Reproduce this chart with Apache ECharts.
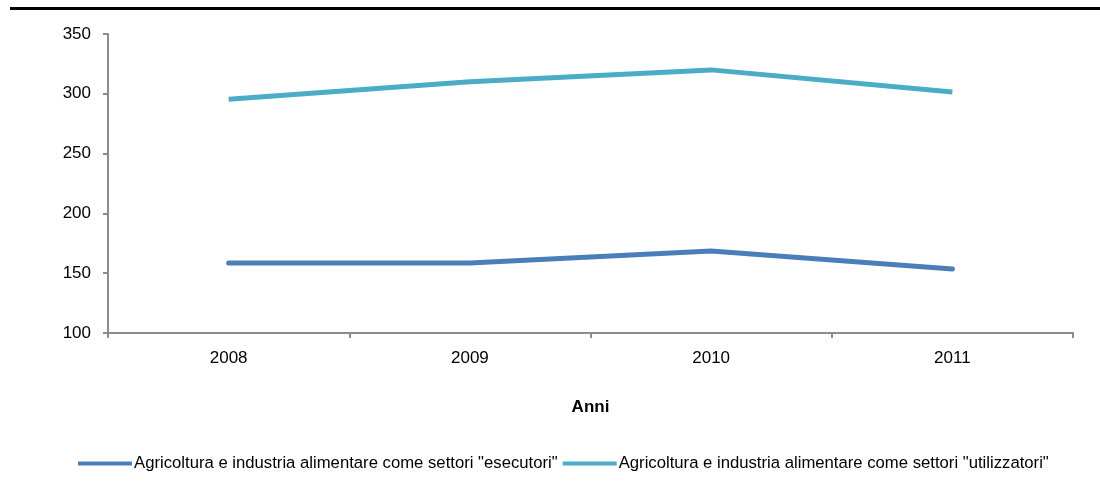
<!DOCTYPE html>
<html>
<head>
<meta charset="utf-8">
<script src="https://cdn.jsdelivr.net/npm/echarts@6/dist/echarts.min.js"></script>
<style>
  html, body { margin: 0; padding: 0; background: #fff; }
  #chart { width: 1100px; height: 488px; }
</style>
</head>
<body>
<div id="chart"></div>
<script>
// Years on the category axis
const anni = ['2008', '2009', '2010', '2011'];
// Agricoltura e industria alimentare come settori "esecutori"
const esecutori = [158.5, 158.5, 168.5, 153.5];
// Agricoltura e industria alimentare come settori "utilizzatori"
const utilizzatori = [295.5, 310, 320, 301.5];
const nomeEsecutori = 'Agricoltura e industria alimentare come settori "esecutori"';
const nomeUtilizzatori = 'Agricoltura e industria alimentare come settori "utilizzatori"';

const sans = '"Liberation Sans", Arial, sans-serif';
const axisGrey = '#8c8c8c';

const chart = echarts.init(document.getElementById('chart'), null, { renderer: 'canvas' });
chart.setOption({
  animation: false,
  backgroundColor: '#ffffff',
  graphic: [{
    type: 'line',
    shape: { x1: 10, y1: 8.5, x2: 1100, y2: 8.5 },
    style: { stroke: '#000', lineWidth: 3 }
  }],
  grid: { left: 108, right: 27, top: 34, bottom: 155, containLabel: false },
  xAxis: {
    type: 'category',
    data: anni,
    boundaryGap: true,
    name: 'Anni',
    nameLocation: 'middle',
    nameGap: 66,
    nameTextStyle: { fontFamily: sans, fontWeight: 'bold', fontSize: 17, color: '#000' },
    axisLine: { lineStyle: { color: axisGrey, width: 2 } },
    axisTick: { show: true, length: 5, lineStyle: { color: axisGrey, width: 2 } },
    axisLabel: { fontFamily: sans, fontSize: 17, color: '#000', margin: 17 },
    splitLine: { show: false }
  },
  yAxis: {
    type: 'value',
    min: 100,
    max: 350,
    interval: 50,
    axisLine: { show: true, lineStyle: { color: axisGrey, width: 2 } },
    axisTick: { show: true, length: 5, lineStyle: { color: axisGrey, width: 2 } },
    axisLabel: { fontFamily: sans, fontSize: 17, color: '#000', margin: 17 },
    splitLine: { show: false }
  },
  legend: {
    left: 73,
    top: 450,
    width: 1025,
    icon: 'rect',
    itemWidth: 54,
    itemHeight: 4,
    itemGap: 5,
    textStyle: { fontFamily: sans, fontSize: 16.7, color: '#000', padding: [0, 0, 0, -3] },
    data: [nomeEsecutori, nomeUtilizzatori]
  },
  series: [
    {
      name: nomeEsecutori,
      type: 'line',
      data: esecutori,
      showSymbol: false,
      symbol: 'none',
      color: '#4a7ebb',
      lineStyle: { color: '#4a7ebb', width: 5, cap: 'round', join: 'round' }
    },
    {
      name: nomeUtilizzatori,
      type: 'line',
      data: utilizzatori,
      showSymbol: false,
      symbol: 'none',
      color: '#4bacc6',
      lineStyle: { color: '#4bacc6', width: 5, cap: 'butt', join: 'round' }
    }
  ]
});
</script>
</body>
</html>
